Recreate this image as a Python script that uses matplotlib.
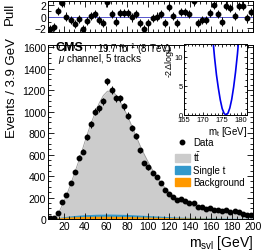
import numpy as np
import matplotlib
matplotlib.use("Agg")
import matplotlib.pyplot as plt
from matplotlib.ticker import MultipleLocator
from matplotlib.patches import Patch
from matplotlib.lines import Line2D

plt.rcParams['font.family'] = ['Liberation Sans', 'DejaVu Sans']
plt.rcParams['mathtext.fontset'] = 'custom'
plt.rcParams['mathtext.rm'] = 'Liberation Sans'
plt.rcParams['mathtext.it'] = 'Liberation Sans:italic'
plt.rcParams['mathtext.bf'] = 'Liberation Sans:bold'

# binning: 50 bins of 3.9 GeV from 5 to 200
bin_lo, bin_hi, n_bins = 5.0, 200.0, 50

# data counts per bin
data = [5, 10, 55, 158, 226, 336, 437, 570, 626, 766,
        880, 998, 1033, 1095, 1281, 1203, 1123, 1123, 1048, 961,
        850, 769, 640, 521, 480, 430, 390, 336, 270, 233,
        202, 177, 186, 170, 146, 150, 109, 109, 93, 105,
        87, 80, 77, 84, 62, 72, 62, 47, 40, 40]

# total prediction (stacked top) per bin
ttbar_top = [2, 12, 50, 130, 220, 320, 430, 540, 660, 780,
             890, 990, 1080, 1150, 1190, 1190, 1160, 1100, 1030, 950,
             860, 770, 680, 600, 525, 455, 395, 340, 292, 250,
             215, 185, 162, 143, 128, 116, 106, 98, 91, 85,
             79, 74, 69, 64, 60, 56, 52, 48, 45, 42]

# single top contribution per bin
single_t = [0, 1, 3, 5, 8, 10, 12, 14, 16, 17,
            18, 19, 20, 20, 21, 21, 21, 20, 20, 19,
            18, 17, 16, 15, 14, 13, 12, 11, 10, 9,
            8, 7, 7, 6, 6, 5, 5, 4, 4, 4,
            3, 3, 3, 3, 2, 2, 2, 2, 2, 2]

# other backgrounds per bin
background = [3, 6, 10, 14, 17, 19, 21, 22, 23, 24,
              24, 25, 25, 25, 25, 25, 24, 24, 23, 23,
              22, 21, 20, 19, 18, 17, 16, 15, 14, 13,
              12, 11, 10, 10, 9, 9, 8, 8, 7, 7,
              6, 6, 6, 5, 5, 5, 4, 4, 4, 4]

# pulls per bin
pull = [-2.33, -1.92, 0.98, 2.43, 0.0, -0.58, -1.34, -0.47, -2.33, -0.76,
        0.1, 0.4, -0.6, -1.17, 2.54, 0.4, -0.93, 0.69, 0.69, 0.57,
        -0.18, 0.4, -1.17, -2.33, -1.17, -0.25, 0.0, 0.4, -1.17, 1.74,
        0.1, -1.17, 0.8, 0.8, 0.4, 2.72, -1.17, -0.58, -0.58, 0.69,
        2.14, 0.4, -0.93, 1.97, 1.56, 0.1, 1.85, 1.97, -0.35, 0.8]
pull_err = 0.75

# likelihood scan (inset)
mt_scan = [172.0, 172.5, 173.0, 173.5, 174.0, 174.5, 175.0, 175.5, 176.0,
           176.5, 177.0, 177.5, 178.0, 178.5, 179.0, 179.5]
nll_scan = [17.6, 13.5, 9.9, 6.9, 4.6, 2.6, 1.1, 0.28, 0.0,
            0.3, 1.2, 2.7, 4.8, 7.4, 10.5, 14.3]

edges = np.linspace(bin_lo, bin_hi, n_bins + 1)
centers = 0.5 * (edges[1:] + edges[:-1])
data = np.array(data, dtype=float)
bkg = np.array(background, dtype=float)
st = np.array(single_t, dtype=float) + bkg
tot = np.array(ttbar_top, dtype=float)

xs = np.concatenate([[bin_lo], centers, [bin_hi]])
def ext(a):
    return np.concatenate([[a[0]], a, [a[-1]]])

fig = plt.figure(figsize=(2.66, 2.53), dpi=100)
W, H = 266.0, 253.0

def place(x0, y0, x1, y1):
    return [x0 / W, 1 - y1 / H, (x1 - x0) / W, (y1 - y0) / H]

def root_style(ax):
    ax.tick_params(which='both', direction='in', top=True, right=True,
                   labelsize=7.5, pad=1.5)
    ax.tick_params(which='major', length=4, width=0.6)
    ax.tick_params(which='minor', length=2, width=0.6)
    for s in ax.spines.values():
        s.set_linewidth(0.7)

# main panel
ax = fig.add_axes(place(48, 46, 253, 220))
ax.fill_between(xs, 0, ext(tot), color='#cccccc', lw=0)
ax.plot(xs, ext(tot), color='#999999', lw=0.6)
ax.fill_between(xs, 0, ext(st), color='#3399cc', lw=0)
ax.fill_between(xs, 0, ext(bkg), color='#ff9900', lw=0)
ax.errorbar(centers, data, yerr=np.sqrt(data), fmt='o', color='black',
            ms=3.2, elinewidth=0.7, capsize=0)
ax.set_xlim(bin_lo, bin_hi)
ax.set_ylim(0, 1620)
ax.xaxis.set_major_locator(MultipleLocator(20))
ax.xaxis.set_minor_locator(MultipleLocator(5))
ax.yaxis.set_major_locator(MultipleLocator(200))
ax.yaxis.set_minor_locator(MultipleLocator(50))
root_style(ax)

handles = [Line2D([], [], marker='o', ls='none', color='black', ms=3.2),
           Patch(color='#cccccc'), Patch(color='#3399cc'), Patch(color='#ff9900')]
labels = ['Data', r'$\mathrm{t\bar{t}}$', 'Single t', 'Background']
ax.legend(handles, labels, loc='upper left', bbox_to_anchor=(0.62, 0.47),
          frameon=False, fontsize=7, handlelength=1.5, handleheight=0.85,
          handletextpad=0.35, labelspacing=0.2, borderaxespad=0,
          borderpad=0)

fig.text(56 / W, 1 - 42 / H, 'CMS', fontsize=9, fontweight='bold', va='top')
fig.text(97 / W, 1 - 41 / H, r'19.7 fb$^{-1}$ (8 TeV)', fontsize=7, va='top')
fig.text(58 / W, 1 - 59 / H, r'$\mu$ channel, 5 tracks', fontsize=7, va='center')
fig.text(12 / W, 1 - 38 / H, 'Events / 3.9 GeV', fontsize=9.5, rotation=90,
         ha='center', va='top')
fig.text(253 / W, 1 - 234 / H, r'm$_{\mathrm{svl}}$ [GeV]', fontsize=10,
         ha='right', va='top')

# pull panel
axp = fig.add_axes(place(48, 2, 253, 33))
axp.axhline(0, color='#5555cc', lw=0.7)
axp.errorbar(centers, pull, yerr=pull_err, fmt='o', color='black',
             ms=3.2, elinewidth=0.7, capsize=0)
axp.set_xlim(bin_lo, bin_hi)
axp.set_ylim(-2.8, 2.8)
axp.xaxis.set_major_locator(MultipleLocator(20))
axp.xaxis.set_minor_locator(MultipleLocator(5))
axp.yaxis.set_major_locator(MultipleLocator(2))
axp.yaxis.set_minor_locator(MultipleLocator(1))
root_style(axp)
axp.tick_params(labelbottom=False)
fig.text(10 / W, 1 - 3 / H, 'Pull', fontsize=9.5, rotation=90,
         ha='center', va='top')

# inset: likelihood scan
axi = fig.add_axes(place(184, 45, 247, 116))
axi.plot(mt_scan, nll_scan, color='#0000ee', lw=1.2)
axi.set_xlim(165, 181.5)
axi.set_ylim(0, 12.2)
axi.xaxis.set_major_locator(MultipleLocator(5))
axi.xaxis.set_minor_locator(MultipleLocator(1))
axi.yaxis.set_major_locator(MultipleLocator(5))
axi.yaxis.set_minor_locator(MultipleLocator(1))
root_style(axi)
axi.tick_params(labelsize=5.5, pad=0.8)
axi.tick_params(which='major', length=2.5)
axi.tick_params(which='minor', length=1.2)
fig.text(169.5 / W, 1 - 45 / H, r'-2$\Delta$logL', fontsize=6.5, rotation=90,
         ha='center', va='top')
fig.text(247 / W, 1 - 132 / H, r'm$_{\mathrm{t}}$ [GeV]', fontsize=7,
         ha='right', va='center')

fig.savefig('out.png', dpi=100)
